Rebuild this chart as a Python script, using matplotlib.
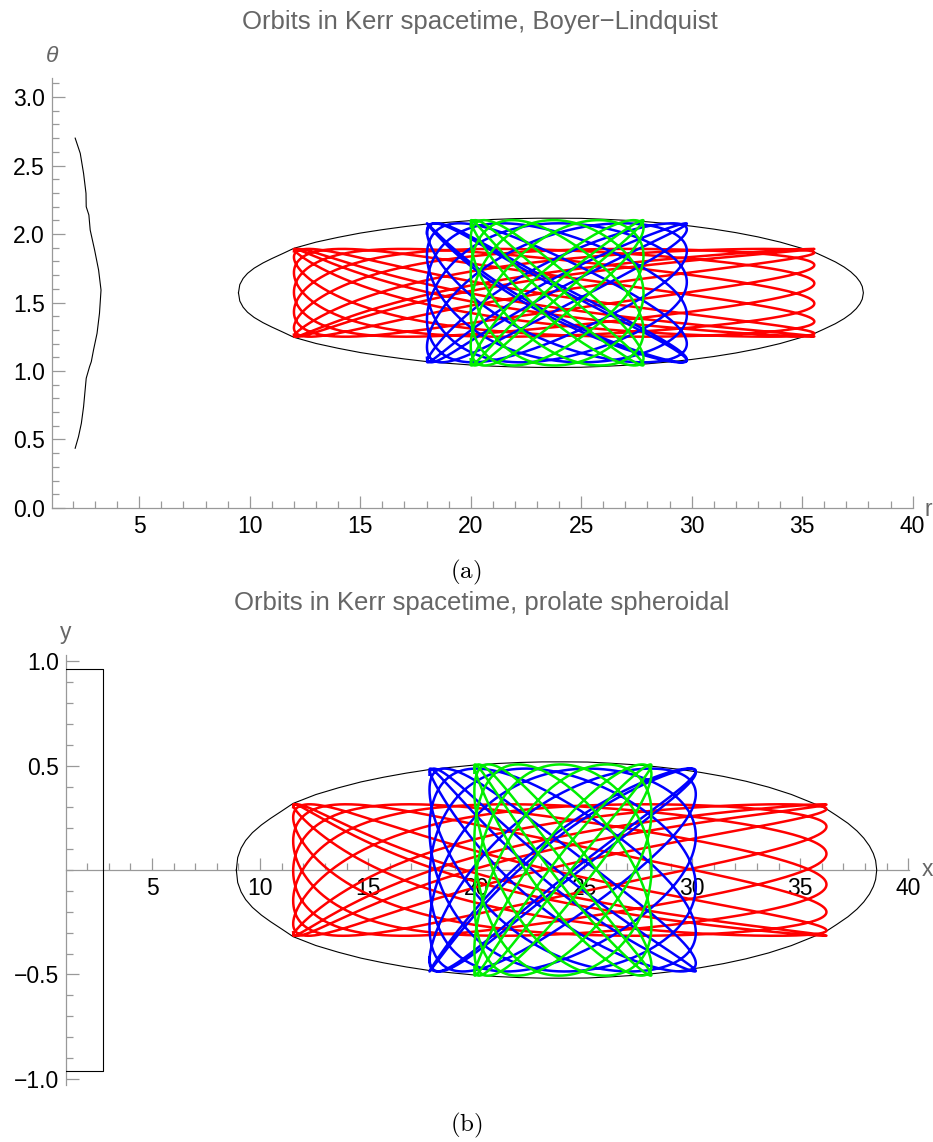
import numpy as np
import matplotlib.pyplot as plt
from matplotlib.ticker import MultipleLocator, FixedLocator

plt.rcParams["font.family"] = ["Liberation Sans", "DejaVu Sans"]
plt.rcParams["mathtext.fontset"] = "cm"

# Kerr parameters (M = 1), prolate spheroidal x = (r - M) / sigma, y = cos(theta)
spin_a = 0.3
sigma = np.sqrt(1 - spin_a**2)

# orbits: turning points and frequency ratio
orbit_colors = ["#ff0000", "#0000ff", "#00ee00"]
r_peri = [12.0, 18.02, 20.0]
r_apo = [35.55, 29.78, 27.82]
z_max = [0.315, 0.486, 0.506]     # max |cos(theta)|
freq_ratio = [1.075, 1.08, 1.09]
n_cycles = [8, 8, 7]
phase0 = [-0.3, -0.35, -0.4]

# zero velocity curve: half width in theta around pi/2 at radius r
zv_r = [9.49, 9.55, 9.7, 9.9, 10.2, 10.6, 11.0, 11.5, 12.0, 13.0, 14.0, 15.0, 16.0,
        17.0, 18.0, 19.0, 20.0, 21.0, 22.0, 23.0, 24.0, 25.0, 26.0, 27.0, 28.0, 29.0,
        30.0, 31.0, 32.0, 33.0, 34.0, 35.0, 35.55, 36.0, 36.5, 36.9, 37.2, 37.45,
        37.62, 37.72, 37.77]
zv_half = [0.0, 0.06, 0.105, 0.142, 0.18, 0.218, 0.25, 0.287, 0.325, 0.37, 0.405,
           0.436, 0.461, 0.483, 0.502, 0.515, 0.527, 0.5355, 0.5414, 0.5445, 0.5448,
           0.5437, 0.5373, 0.5293, 0.5183, 0.5042, 0.4866, 0.4651, 0.4393, 0.4082,
           0.3705, 0.324, 0.297, 0.264, 0.2257, 0.1882, 0.1532, 0.1153, 0.0792,
           0.0458, 0.0]

# inner black curve, Boyer-Lindquist panel
bh_theta = [2.70, 2.589, 2.443, 2.297, 2.199, 2.139, 2.029, 1.883, 1.737, 1.591,
            1.421, 1.275, 1.153, 1.068, 1.031, 0.947, 0.739, 0.618, 0.520, 0.436]
bh_r = [2.10, 2.33, 2.48, 2.59, 2.60, 2.72, 2.78, 2.98, 3.16, 3.27,
        3.20, 3.09, 2.93, 2.83, 2.75, 2.60, 2.48, 2.38, 2.25, 2.10]

# inner black box, prolate spheroidal panel
box_x = [1.0, 2.73, 2.73, 1.0]
box_y = [0.965, 0.965, -0.965, -0.965]

axis_gray = "#999999"
text_gray = "#666666"


def orbit(i):
    p = 2 * r_peri[i] * r_apo[i] / (r_peri[i] + r_apo[i])
    e = (r_apo[i] - r_peri[i]) / (r_apo[i] + r_peri[i])
    chi = np.linspace(0, 2 * np.pi * n_cycles[i], 6000)
    r = p / (1 + e * np.cos(chi))
    y = z_max[i] * np.cos(freq_ratio[i] * chi + phase0[i])
    return r, y


def style(ax):
    for s in ["top", "right"]:
        ax.spines[s].set_visible(False)
    for s in ["left", "bottom"]:
        ax.spines[s].set_color(axis_gray)
        ax.spines[s].set_linewidth(0.9)
        ax.spines[s].set_zorder(0.5)
    ax.set_axisbelow(True)
    ax.tick_params(which="major", direction="in", length=9, width=0.9,
                   color=axis_gray, labelcolor="black", labelsize=16.5, pad=5)
    ax.tick_params(which="minor", direction="in", length=5, width=0.9, color=axis_gray)
    ax.xaxis.set_major_locator(FixedLocator(range(5, 41, 5)))
    ax.xaxis.set_minor_locator(FixedLocator(range(2, 41)))


fig = plt.figure(figsize=(9.33, 11.42), dpi=100)

# ---- (a) Boyer-Lindquist ----
ax1 = fig.add_axes([0.0557, 0.5552, 0.9225, 0.3768])
style(ax1)
zr = np.array(zv_r)
zh = np.array(zv_half)
ax1.plot(np.concatenate([zr, zr[::-1]]),
         np.concatenate([np.pi / 2 + zh, np.pi / 2 - zh[::-1]]), color="black", lw=0.8)
ax1.plot(bh_r, bh_theta, color="black", lw=0.8)
for i in range(3):
    r, y = orbit(i)
    ax1.plot(r, np.arccos(y), color=orbit_colors[i], lw=1.8)
ax1.set_xlim(1.05, 40)
ax1.set_ylim(0, np.pi)
ax1.yaxis.set_major_locator(MultipleLocator(0.5))
ax1.yaxis.set_minor_locator(MultipleLocator(0.1))
ax1.yaxis.set_major_formatter(lambda v, pos: f"{v:.1f}")

# ---- (b) prolate spheroidal ----
ax2 = fig.add_axes([0.0704, 0.0499, 0.9039, 0.3765])
style(ax2)
ax2.spines["bottom"].set_position(("data", 0))
xb = (zr - 1) / sigma
yb = np.sin(zh)
ax2.plot(np.concatenate([xb, xb[::-1]]), np.concatenate([yb, -yb[::-1]]),
         color="black", lw=0.8)
ax2.plot(box_x, box_y, color="black", lw=0.8)
for i in range(3):
    r, y = orbit(i)
    ax2.plot((r - 1) / sigma, y, color=orbit_colors[i], lw=1.8)
ax2.set_xlim(1.0, 40.04)
ax2.set_ylim(-1.03, 1.03)
ax2.yaxis.set_major_locator(FixedLocator([-1.0, -0.5, 0.5, 1.0]))
ax2.yaxis.set_minor_locator(FixedLocator(np.round(np.arange(-1.0, 1.01, 0.1), 2)))
ax2.yaxis.set_major_formatter(lambda v, pos: f"{v:.1f}".replace("-", "\u2212"))

# titles and labels
fig.text(0.5145, 0.9807, "Orbits in Kerr spacetime, Boyer\u2212Lindquist", ha="center",
         va="center", fontsize=18.5, color=text_gray)
fig.text(0.5165, 0.472, "Orbits in Kerr spacetime, prolate spheroidal", ha="center",
         va="center", fontsize=18.5, color=text_gray)
fig.text(52 / 933, 1 - 55 / 1142, "\u03b8", ha="center", va="center", fontsize=16.5,
         style="italic", color=text_gray)
fig.text(924 / 933, 1 - 510 / 1142, "r", ha="left", va="center", fontsize=16.5, color=text_gray)
fig.text(66 / 933, 1 - 633 / 1142, "y", ha="center", va="center", fontsize=16.5, color=text_gray)
fig.text(922 / 933, 1 - 870 / 1142, "x", ha="left", va="center", fontsize=16.5, color=text_gray)
fig.text(0.4995, 1 - 572 / 1142, r"$\mathrm{(a)}$", ha="center", va="center", fontsize=18)
fig.text(0.4995, 1 - 1125 / 1142, r"$\mathrm{(b)}$", ha="center", va="center", fontsize=18)

fig.savefig("out.png", dpi=100)
